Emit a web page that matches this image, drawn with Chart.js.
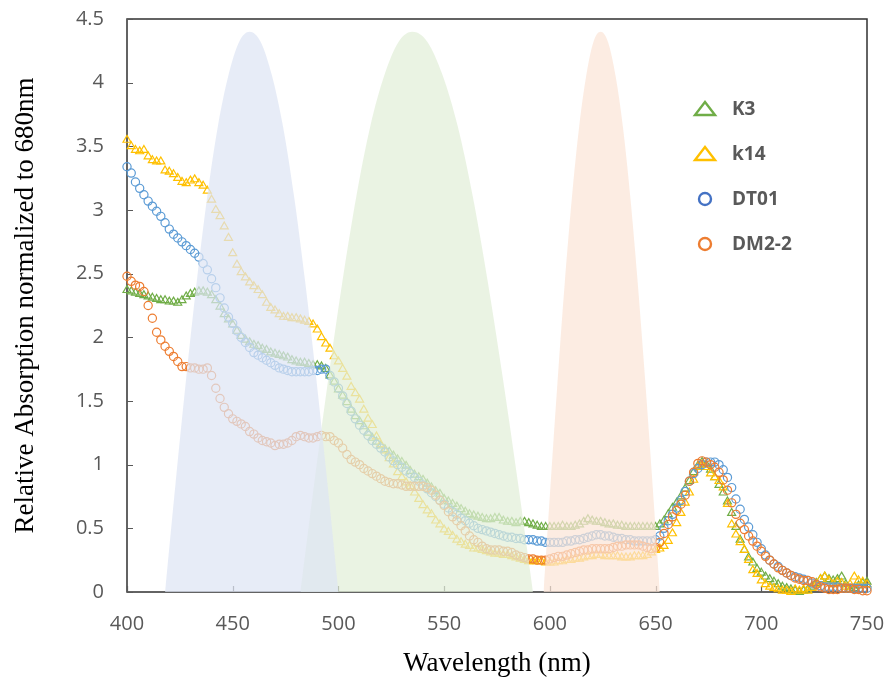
<!DOCTYPE html>
<html>
<head>
<meta charset="utf-8">
<script src="https://cdn.jsdelivr.net/npm/chart.js@4.4.0/dist/chart.umd.min.js"></script>
<style>
  html, body { margin: 0; padding: 0; background: #fff; }
</style>
</head>
<body>
<canvas id="absChart" width="886" height="682"></canvas>
<script>
// wavelength grid (nm)
const wavelengths = [
  400,402,404,406,408,410,412,414,416,418,420,422,424,426,428,430,432,434,436,438,
  440,442,444,446,448,450,452,454,456,458,460,462,464,466,468,470,472,474,476,478,
  480,482,484,486,488,490,492,494,496,498,500,502,504,506,508,510,512,514,516,518,
  520,522,524,526,528,530,532,534,536,538,540,542,544,546,548,550,552,554,556,558,
  560,562,564,566,568,570,572,574,576,578,580,582,584,586,588,590,592,594,596,598,
  600,602,604,606,608,610,612,614,616,618,620,622,624,626,628,630,632,634,636,638,
  640,642,644,646,648,650,652,654,656,658,660,662,664,666,668,670,672,674,676,678,
  680,682,684,686,688,690,692,694,696,698,700,702,704,706,708,710,712,714,716,718,
  720,722,724,726,728,730,732,734,736,738,740,742,744,746,748,750
];

const k3 = [
  2.37,2.36,2.35,2.34,2.33, 2.32,2.31,2.30,2.29,2.29, 2.28,2.28,2.27,2.29,2.32, 2.34,2.35,2.36,2.36,2.35,
  2.33,2.29,2.24,2.18,2.14, 2.10,2.05,2.01,1.98,1.96, 1.94,1.93,1.91,1.90,1.88, 1.87,1.86,1.85,1.84,1.82,
  1.81,1.80,1.80,1.79,1.78, 1.78,1.77,1.75,1.70,1.65, 1.59,1.54,1.49,1.43,1.38, 1.34,1.30,1.25,1.21,1.18,
  1.15,1.12,1.10,1.07,1.04, 1.02,0.99,0.95,0.92,0.90, 0.88,0.85,0.82,0.79,0.77, 0.73,0.71,0.69,0.67,0.65,
  0.63,0.61,0.60,0.59,0.58, 0.57,0.57,0.58,0.58,0.56, 0.55,0.55,0.54,0.55,0.55, 0.54,0.53,0.52,0.51,0.51,
  0.51,0.51,0.51,0.52,0.51, 0.51,0.52,0.53,0.55,0.57, 0.56,0.55,0.55,0.54,0.53, 0.53,0.52,0.52,0.51,0.51,
  0.51,0.51,0.51,0.51,0.51, 0.51,0.53,0.56,0.61,0.66, 0.70,0.75,0.81,0.87,0.94, 0.99,1.02,1.00,0.96,0.90,
  0.84,0.78,0.71,0.62,0.51, 0.41,0.33,0.27,0.23,0.18, 0.15,0.12,0.10,0.08,0.06, 0.04,0.03,0.02,0.01,0.00,
  0.01,0.02,0.04,0.07,0.10, 0.12,0.10,0.09,0.10,0.12, 0.06,0.02,0.03,0.05,0.07, 0.08
];

const k14 = [
  3.55,3.50,3.47,3.46,3.47, 3.42,3.39,3.38,3.38,3.31, 3.30,3.28,3.25,3.22,3.21, 3.23,3.24,3.21,3.19,3.15,
  3.08,3.00,2.95,2.87,2.78, 2.66,2.57,2.51,2.47,2.43, 2.40,2.37,2.33,2.27,2.23, 2.21,2.18,2.16,2.16,2.15,
  2.15,2.14,2.13,2.12,2.10, 2.06,2.00,1.95,1.91,1.85, 1.81,1.75,1.69,1.61,1.56, 1.51,1.43,1.36,1.31,1.22,
  1.16,1.11,1.05,1.00,0.94, 0.90,0.86,0.83,0.78,0.73, 0.68,0.64,0.61,0.56,0.53, 0.49,0.47,0.44,0.41,0.39,
  0.37,0.36,0.34,0.34,0.33, 0.32,0.31,0.30,0.30,0.29, 0.29,0.28,0.27,0.26,0.25, 0.24,0.24,0.24,0.24,0.23,
  0.23,0.23,0.24,0.24,0.25, 0.25,0.26,0.26,0.27,0.28, 0.28,0.29,0.29,0.28,0.28, 0.28,0.28,0.27,0.27,0.27,
  0.28,0.28,0.28,0.29,0.31, 0.33,0.34,0.36,0.40,0.46, 0.54,0.62,0.70,0.78,0.88, 0.98,1.00,0.98,0.93,0.90,
  0.87,0.82,0.69,0.53,0.45, 0.39,0.33,0.25,0.17,0.14, 0.09,0.06,0.04,0.03,0.02, 0.01,0.01,0.00,0.02,0.01,
  0.02,0.01,0.03,0.06,0.10, 0.12,0.09,0.06,0.08,0.07, 0.04,0.06,0.12,0.09,0.08, 0.06
];

const dt01 = [
  3.34,3.29,3.22,3.17,3.12, 3.07,3.03,2.99,2.95,2.90, 2.85,2.81,2.78,2.75,2.72, 2.69,2.66,2.63,2.58,2.53,
  2.46,2.39,2.31,2.23,2.16, 2.11,2.05,2.00,1.96,1.92, 1.88,1.86,1.84,1.82,1.80, 1.78,1.76,1.75,1.74,1.73,
  1.73,1.73,1.73,1.73,1.74, 1.74,1.75,1.75,1.70,1.65, 1.60,1.54,1.48,1.42,1.36, 1.31,1.27,1.23,1.19,1.16,
  1.13,1.10,1.06,1.03,1.00, 0.98,0.95,0.93,0.90,0.87, 0.84,0.81,0.78,0.75,0.72, 0.69,0.66,0.63,0.61,0.58,
  0.56,0.54,0.52,0.50,0.49, 0.48,0.47,0.46,0.45,0.44, 0.43,0.43,0.42,0.42,0.41, 0.41,0.41,0.40,0.40,0.39,
  0.39,0.39,0.39,0.39,0.40, 0.40,0.41,0.41,0.42,0.43, 0.44,0.45,0.45,0.44,0.44, 0.43,0.42,0.42,0.41,0.41,
  0.40,0.40,0.40,0.40,0.40, 0.41,0.44,0.50,0.56,0.61, 0.66,0.72,0.79,0.87,0.93, 0.97,1.00,1.02,1.02,1.02,
  1.00,0.96,0.90,0.82,0.73, 0.65,0.57,0.51,0.45,0.39, 0.34,0.29,0.25,0.22,0.20, 0.17,0.15,0.13,0.12,0.11,
  0.10,0.09,0.07,0.06,0.05, 0.04,0.04,0.04,0.04,0.03, 0.03,0.03,0.03,0.03,0.03, 0.03
];

const dm22 = [
  2.48,2.44,2.41,2.40,2.36, 2.25,2.15,2.04,1.98,1.93, 1.89,1.85,1.81,1.77,1.77, 1.76,1.76,1.75,1.75,1.76,
  1.70,1.60,1.52,1.45,1.40, 1.36,1.34,1.32,1.30,1.26, 1.24,1.21,1.19,1.18,1.17, 1.15,1.16,1.16,1.17,1.19,
  1.22,1.23,1.22,1.21,1.21, 1.22,1.23,1.22,1.22,1.19, 1.17,1.13,1.08,1.04,1.02, 1.00,0.97,0.95,0.93,0.91,
  0.89,0.87,0.86,0.85,0.85, 0.84,0.83,0.83,0.83,0.83, 0.83,0.82,0.80,0.76,0.72, 0.68,0.63,0.59,0.56,0.52,
  0.48,0.44,0.41,0.39,0.36, 0.34,0.33,0.33,0.33,0.32, 0.32,0.31,0.29,0.28,0.27, 0.26,0.26,0.25,0.25,0.25,
  0.26,0.27,0.28,0.28,0.29, 0.30,0.31,0.32,0.33,0.33, 0.34,0.34,0.34,0.34,0.34, 0.35,0.36,0.36,0.37,0.37,
  0.37,0.37,0.36,0.35,0.34, 0.35,0.39,0.46,0.53,0.59, 0.64,0.69,0.76,0.87,0.94, 1.01,1.03,1.02,1.00,0.98,
  0.94,0.88,0.80,0.70,0.61, 0.54,0.49,0.44,0.40,0.36, 0.32,0.28,0.25,0.22,0.19, 0.17,0.15,0.13,0.11,0.10,
  0.09,0.09,0.08,0.06,0.04, 0.03,0.02,0.02,0.02,0.03, 0.03,0.03,0.02,0.02,0.01, 0.01
];

// shaded filter bands: outline heights and their wavelengths
const bandLevels = [0,0.86,1.68,2.44,3.11,3.66,4.06,4.32,4.4,4.32,4.06,3.66,3.11,2.44,1.68,0.86,0];
const blueBandX = [418,423,428,433,438,443,448,453,458,463.25,468.5,473.75,479,484.25,489.5,494.75,500];
const greenBandX = [482,488.6,495.25,501.9,508.5,515.1,521.75,528.4,535,542.1,549.25,556.4,563.5,570.6,577.75,584.9,592];
const orangeBandX = [597,600.4,603.75,607.1,610.5,613.9,617.25,620.6,624,627.5,631,634.5,638,641.5,645,648.5,652];

const seriesNames = ['K3', 'k14', 'DT01', 'DM2-2'];
const seriesColors = ['#70AD47', '#FFC000', '#5B9BD5', '#ED7D31'];
const legendColors = ['#70AD47', '#FFC000', '#4472C4', '#ED7D31'];
const seriesStyles = ['triangle', 'triangle', 'circle', 'circle'];
const seriesValues = [k3, k14, dt01, dm22];

function toPoints(xs, ys) {
  return xs.map((x, i) => ({ x: x, y: ys[i] }));
}

function bandDataset(xs, color) {
  return {
    label: '',
    data: toPoints(xs, bandLevels),
    showLine: true,
    fill: 'origin',
    backgroundColor: color,
    borderColor: 'rgba(0,0,0,0)',
    borderWidth: 0,
    pointRadius: 0,
    cubicInterpolationMode: 'monotone',
    order: 0
  };
}

const datasets = [
  bandDataset(blueBandX, 'rgba(222,228,244,0.72)'),
  bandDataset(greenBandX, 'rgba(226,238,216,0.72)'),
  bandDataset(orangeBandX, 'rgba(251,228,215,0.72)')
];

seriesNames.forEach((name, i) => {
  datasets.push({
    label: name,
    data: toPoints(wavelengths, seriesValues[i]),
    showLine: false,
    pointStyle: seriesStyles[i],
    pointRadius: seriesStyles[i] === 'triangle' ? 4.6 : 4.1,
    pointBorderWidth: 1.2,
    pointBorderColor: seriesColors[i],
    pointBackgroundColor: 'rgba(0,0,0,0)',
    borderColor: seriesColors[i],
    clip: false,
    order: 4 - i
  });
});

// frame and inward tick marks, drawn under the datasets
const framePlugin = {
  id: 'frame',
  beforeDatasetsDraw(chart) {
    const { ctx, chartArea: a } = chart;
    const xs = chart.scales.x, ys = chart.scales.y;
    ctx.save();
    ctx.strokeStyle = '#303030';
    ctx.lineWidth = 1.5;
    ctx.strokeRect(a.left, a.top, a.right - a.left, a.bottom - a.top);
    ctx.lineWidth = 1.2;
    ctx.strokeStyle = '#595959';
    ctx.beginPath();
    xs.ticks.forEach(t => {
      const px = Math.round(xs.getPixelForValue(t.value)) + 0.5;
      ctx.moveTo(px, a.bottom);
      ctx.lineTo(px, a.bottom - 6);
    });
    ys.ticks.forEach(t => {
      const py = Math.round(ys.getPixelForValue(t.value)) + 0.5;
      ctx.moveTo(a.left, py);
      ctx.lineTo(a.left + 6, py);
    });
    ctx.stroke();
    ctx.restore();
  }
};

// legend inside the plot, right side
const legendPlugin = {
  id: 'insideLegend',
  afterDatasetsDraw(chart) {
    const { ctx, chartArea: a } = chart;
    const x0 = a.left + 578;
    const y0 = a.top + 90;
    const gap = 45;
    ctx.save();
    seriesNames.forEach((name, i) => {
      const cy = y0 + i * gap;
      ctx.strokeStyle = legendColors[i];
      ctx.lineWidth = 2.4;
      ctx.beginPath();
      if (seriesStyles[i] === 'triangle') {
        ctx.moveTo(x0, cy - 7);
        ctx.lineTo(x0 + 10, cy + 6);
        ctx.lineTo(x0 - 10, cy + 6);
        ctx.closePath();
      } else {
        ctx.arc(x0, cy, 6, 0, Math.PI * 2);
      }
      ctx.stroke();
      ctx.fillStyle = '#595959';
      ctx.font = 'bold 19px "Open Sans"';
      ctx.textAlign = 'left';
      ctx.textBaseline = 'middle';
      ctx.fillText(name, x0 + 27, cy + 1);
    });
    ctx.restore();
  }
};

new Chart(document.getElementById('absChart'), {
  type: 'line',
  data: { datasets: datasets },
  options: {
    responsive: false,
    animation: false,
    events: [],
    layout: { padding: { left: 0, top: 19, right: 19, bottom: 0 } },
    plugins: {
      legend: { display: false },
      tooltip: { enabled: false }
    },
    scales: {
      x: {
        type: 'linear',
        min: 400,
        max: 750,
        grid: { display: false, drawTicks: false },
        border: { display: false },
        ticks: {
          stepSize: 50,
          padding: 20,
          color: '#595959',
          font: { family: 'Open Sans', size: 20 },
          maxRotation: 0
        },
        title: {
          display: true,
          text: 'Wavelength (nm)',
          color: '#000',
          font: { family: 'Liberation Serif', size: 27 },
          padding: { top: 0, bottom: 2 }
        },
        afterFit(scale) {
          scale.height = 90;
          scale.paddingLeft = 0;
          scale.paddingRight = 0;
        }
      },
      y: {
        min: 0,
        max: 4.5,
        grid: { display: false, drawTicks: false },
        border: { display: false },
        ticks: {
          stepSize: 0.5,
          padding: 23,
          color: '#595959',
          font: { family: 'Open Sans', size: 20 },
          callback: v => String(v)
        },
        title: {
          display: true,
          text: 'Relative Absorption normalized to 680nm',
          color: '#000',
          font: { family: 'Liberation Serif', size: 27 },
          padding: { top: 10, bottom: 0 }
        },
        afterFit(scale) {
          scale.width = 127;
          scale.paddingTop = 0;
          scale.paddingBottom = 0;
        }
      }
    }
  },
  plugins: [framePlugin, legendPlugin]
});
</script>
</body>
</html>
